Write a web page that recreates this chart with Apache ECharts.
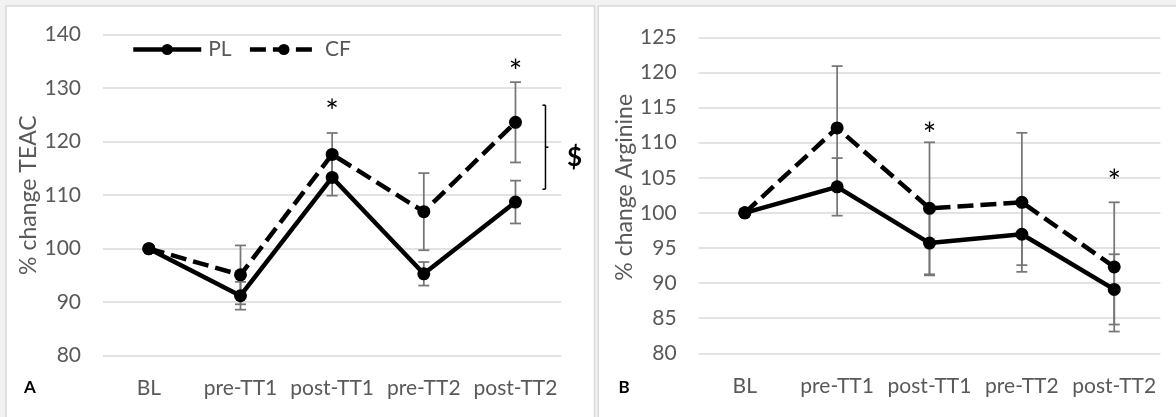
<!DOCTYPE html>
<html>
<head>
<meta charset="utf-8">
<script src="https://cdn.jsdelivr.net/npm/echarts@6/dist/echarts.min.js"></script>
<style>html,body{margin:0;padding:0;background:#f2f2f2;}#c{width:1176px;height:417px;}</style>
</head>
<body>
<div id="c"></div>
<script>
const categories = ['BL', 'pre-TT1', 'post-TT1', 'pre-TT2', 'post-TT2'];
// Panel A: % change TEAC
const teacPL = [100, 91.2, 113.3, 95.3, 108.7];
const teacCF = [100, 95.1, 117.6, 106.9, 123.6];
const teacPLerr = [0, 2.6, 3.4, 2.2, 4.0];
const teacCFerr = [0, 5.5, 4.0, 7.2, 7.5];
const teacTicks = { min: 80, max: 140, interval: 10 };
const teacStars = [[2, 126.6], [4, 134.0]];
const teacBracket = [[4, 126.8, 111.1]];
// Panel B: % change Arginine
const argPL = [100, 103.7, 95.7, 96.95, 89.1];
const argCF = [100, 112.1, 100.65, 101.5, 92.3];
const argPLerr = [0, 4.1, 4.6, 4.4, 5.0];
const argCFerr = [0, 8.8, 9.4, 9.9, 9.2];
const argTicks = { min: 80, max: 125, interval: 5 };
const argStars = [[2, 111.9], [4, 105.1]];

const FONT = 'Lato, "Open Sans", sans-serif';
const GRAY = '#595959';
const ERR = '#767676';

function errRender(params, api) {
  const x = api.value(0), y = api.value(1), e = api.value(2);
  if (!e) return null;
  const t = api.coord([x, y + e]), b = api.coord([x, y - e]);
  const hw = 5.5, st = { stroke: ERR, lineWidth: 1.75 };
  return { type: 'group', children: [
    { type: 'line', shape: { x1: t[0], y1: t[1], x2: b[0], y2: b[1] }, style: st },
    { type: 'line', shape: { x1: t[0] - hw, y1: t[1], x2: t[0] + hw, y2: t[1] }, style: st },
    { type: 'line', shape: { x1: b[0] - hw, y1: b[1], x2: b[0] + hw, y2: b[1] }, style: st }
  ]};
}
function starRender(params, api) {
  const p = api.coord([api.value(0), api.value(1)]);
  return { type: 'text', x: p[0], y: p[1] + 6, style: { text: '*', fill: '#000', fontSize: 32, fontFamily: FONT, align: 'center', verticalAlign: 'middle' } };
}
function bracketRender(params, api) {
  const t = api.coord([api.value(0), api.value(1)]);
  const b = api.coord([api.value(0), api.value(2)]);
  const x = t[0] + 30, m = (t[1] + b[1]) / 2;
  const st = { stroke: '#000', lineWidth: 1.5 };
  return { type: 'group', children: [
    { type: 'line', shape: { x1: x, y1: t[1], x2: x, y2: b[1] }, style: st },
    { type: 'line', shape: { x1: x - 3, y1: t[1], x2: x, y2: t[1] }, style: st },
    { type: 'line', shape: { x1: x - 3, y1: b[1], x2: x, y2: b[1] }, style: st },
    { type: 'line', shape: { x1: x, y1: m, x2: x + 3, y2: m }, style: st },
    { type: 'text', x: x + 29, y: m + 10, style: { text: '$', fill: '#000', fontSize: 26, fontWeight: 'bold', fontFamily: FONT, align: 'center', verticalAlign: 'middle' } }
  ]};
}
function tuple(vals, errs) { return categories.map((c, i) => [i, vals[i], errs[i]]); }

function xAxis(idx) {
  return { type: 'category', gridIndex: idx, data: categories, boundaryGap: true,
    axisLine: { show: false }, axisTick: { show: false },
    axisLabel: { color: GRAY, fontSize: 21, fontFamily: FONT, margin: 22, interval: 0 } };
}
function yAxis(idx, ticks, name, pad) {
  return { type: 'value', gridIndex: idx, min: ticks.min, max: ticks.max, interval: ticks.interval,
    name: name, nameLocation: 'middle', nameGap: 60, nameRotate: 90,
    nameTextStyle: { color: GRAY, fontSize: 23, fontFamily: FONT, padding: pad },
    axisLine: { show: false }, axisTick: { show: false },
    axisLabel: { color: GRAY, fontSize: 21, fontFamily: FONT, margin: 22 },
    splitLine: { lineStyle: { color: '#d9d9d9', width: 1.5 } } };
}
function lineSeries(name, data, dashed, idx) {
  return { type: 'line', name: name, data: data, xAxisIndex: idx, yAxisIndex: idx, z: 5,
    symbol: 'circle', symbolSize: 13, color: '#000',
    itemStyle: { color: '#000' },
    lineStyle: { color: '#000', width: 4.5, type: dashed ? [16, 7] : 'solid' },
    animation: false };
}
function errSeries(vals, errs, idx) {
  return { type: 'custom', xAxisIndex: idx, yAxisIndex: idx, data: tuple(vals, errs), renderItem: errRender, z: 3, silent: true, animation: false };
}

const chart = echarts.init(document.getElementById('c'), null, { renderer: 'canvas' });
chart.setOption({
  backgroundColor: 'transparent',
  animation: false,
  graphic: [
    { type: 'rect', z: -100, shape: { x: 6, y: 6, width: 588.5, height: 430 }, style: { fill: '#fff', stroke: '#d9d9d9', lineWidth: 1.5 } },
    { type: 'rect', z: -100, shape: { x: 598.3, y: 6, width: 600, height: 430 }, style: { fill: '#fff', stroke: '#d9d9d9', lineWidth: 1.5 } },
    { type: 'text', x: 30, y: 388, style: { text: 'A', fill: '#000', fontSize: 17, fontWeight: 'bold', fontFamily: FONT, align: 'center', verticalAlign: 'middle' } },
    { type: 'text', x: 624, y: 388, style: { text: 'B', fill: '#000', fontSize: 17, fontWeight: 'bold', fontFamily: FONT, align: 'center', verticalAlign: 'middle' } }
  ],
  legend: {
    data: ['PL', 'CF'], left: 131, top: 39, padding: 0, itemWidth: 68, itemHeight: 14, itemGap: 16,
    lineStyle: { width: 4.5 },
    textStyle: { color: GRAY, fontSize: 21, fontFamily: FONT, padding: [0, 0, 0, 2] },
    selectedMode: false
  },
  grid: [
    { left: 103, right: 614.7, top: 34.5, bottom: 61.3 },
    { left: 698.6, right: 15.6, top: 37.3, bottom: 63.7 }
  ],
  xAxis: [xAxis(0), xAxis(1)],
  yAxis: [yAxis(0, teacTicks, '% change TEAC', [0, 0, 0, 0]), yAxis(1, argTicks, '% change Arginine', [0, 0, 0, 16])],
  series: [
    errSeries(teacPL, teacPLerr, 0),
    errSeries(teacCF, teacCFerr, 0),
    lineSeries('PL', teacPL, false, 0),
    lineSeries('CF', teacCF, true, 0),
    { type: 'custom', xAxisIndex: 0, yAxisIndex: 0, data: teacStars, renderItem: starRender, z: 6, silent: true },
    { type: 'custom', xAxisIndex: 0, yAxisIndex: 0, data: teacBracket, renderItem: bracketRender, z: 6, silent: true },
    errSeries(argPL, argPLerr, 1),
    errSeries(argCF, argCFerr, 1),
    lineSeries('PL', argPL, false, 1),
    lineSeries('CF', argCF, true, 1),
    { type: 'custom', xAxisIndex: 1, yAxisIndex: 1, data: argStars, renderItem: starRender, z: 6, silent: true }
  ]
});
</script>
</body>
</html>
